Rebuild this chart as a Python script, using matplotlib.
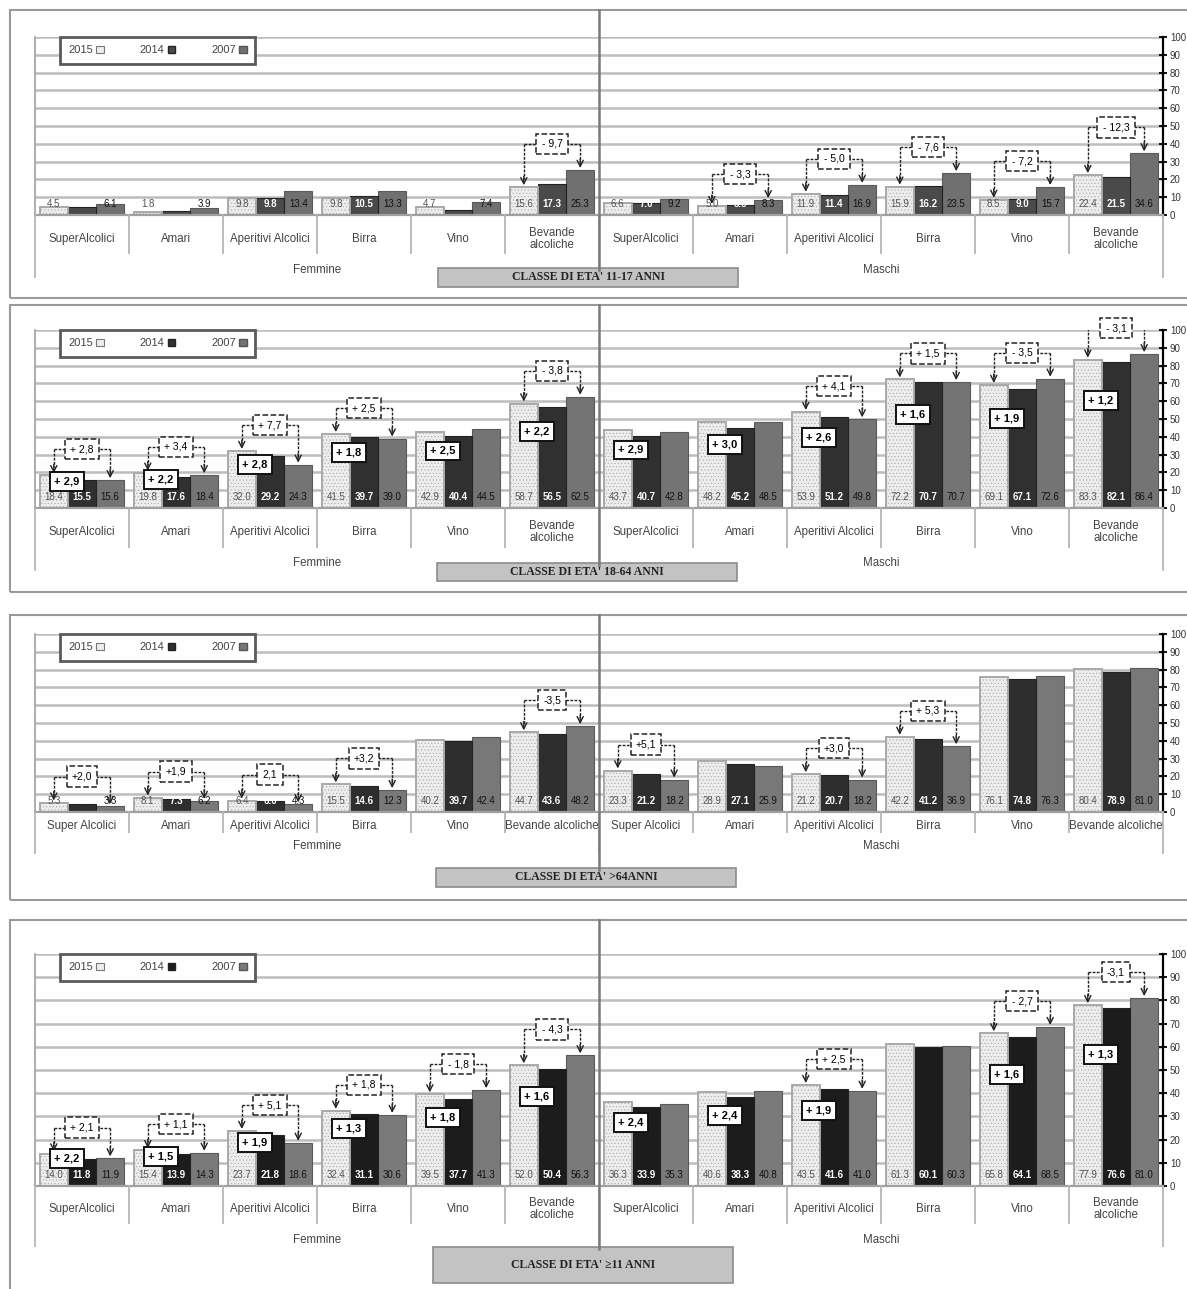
import matplotlib
matplotlib.use("Agg")
import matplotlib.pyplot as plt
from matplotlib.patches import Rectangle, Patch
from matplotlib.lines import Line2D
from matplotlib.transforms import blended_transform_factory

plt.rcParams['font.family'] = ['Liberation Sans', 'DejaVu Sans']
plt.rcParams['hatch.linewidth'] = 0.4

W, H = 1187, 1289

years = ["2007", "2014", "2015"]
groups = ["Maschi", "Femmine"]
cats_wrap = ["Bevande\nalcoliche", "Vino", "Birra", "Aperitivi Alcolici", "Amari", "SuperAlcolici"]
cats_flat = ["Bevande alcoliche", "Vino", "Birra", "Aperitivi Alcolici", "Amari", "Super Alcolici"]

titles = ["CLASSE DI ETA' 11-17 ANNI", "CLASSE DI ETA' 18-64 ANNI",
          "CLASSE DI ETA' >64ANNI", "CLASSE DI ETA' \u226511 ANNI"]

# order: Maschi (6 categories) then Femmine (6 categories)
v2007_1117 = [34.6, 15.7, 23.5, 16.9, 8.3, 9.2, 25.3, 7.4, 13.3, 13.4, 3.9, 6.1]
v2014_1117 = [21.5, 9.0, 16.2, 11.4, 5.5, 7.0, 17.3, 2.9, 10.5, 9.8, 2.0, 4.5]
v2015_1117 = [22.4, 8.5, 15.9, 11.9, 5.0, 6.6, 15.6, 4.7, 9.8, 9.8, 1.8, 4.5]
diff07_1117 = ["- 12,3", "- 7,2", "- 7,6", "- 5,0", "- 3,3", None, "- 9,7", None, None, None, None, None]
diff14_1117 = [None] * 12

v2007_1864 = [86.4, 72.6, 70.7, 49.8, 48.5, 42.8, 62.5, 44.5, 39.0, 24.3, 18.4, 15.6]
v2014_1864 = [82.1, 67.1, 70.7, 51.2, 45.2, 40.7, 56.5, 40.4, 39.7, 29.2, 17.6, 15.5]
v2015_1864 = [83.3, 69.1, 72.2, 53.9, 48.2, 43.7, 58.7, 42.9, 41.5, 32.0, 19.8, 18.4]
diff07_1864 = ["- 3,1", "- 3,5", "+ 1,5", "+ 4,1", None, None, "- 3,8", None, "+ 2,5", "+ 7,7", "+ 3,4", "+ 2,8"]
diff14_1864 = ["+ 1,2", "+ 1,9", "+ 1,6", "+ 2,6", "+ 3,0", "+ 2,9", "+ 2,2", "+ 2,5", "+ 1,8", "+ 2,8", "+ 2,2", "+ 2,9"]

v2007_64 = [81.0, 76.3, 36.9, 18.2, 25.9, 18.2, 48.2, 42.4, 12.3, 4.3, 6.2, 3.3]
v2014_64 = [78.9, 74.8, 41.2, 20.7, 27.1, 21.2, 43.6, 39.7, 14.6, 6.0, 7.3, 4.3]
v2015_64 = [80.4, 76.1, 42.2, 21.2, 28.9, 23.3, 44.7, 40.2, 15.5, 6.4, 8.1, 5.3]
diff07_64 = [None, None, "+ 5,3", "+3,0", None, "+5,1", "-3,5", None, "+3,2", "2,1", "+1,9", "+2,0"]
diff14_64 = [None] * 12

v2007_tot = [81.0, 68.5, 60.3, 41.0, 40.8, 35.3, 56.3, 41.3, 30.6, 18.6, 14.3, 11.9]
v2014_tot = [76.6, 64.1, 60.1, 41.6, 38.3, 33.9, 50.4, 37.7, 31.1, 21.8, 13.9, 11.8]
v2015_tot = [77.9, 65.8, 61.3, 43.5, 40.6, 36.3, 52.0, 39.5, 32.4, 23.7, 15.4, 14.0]
diff07_tot = ["-3,1", "- 2,7", None, "+ 2,5", None, None, "- 4,3", "- 1,8", "+ 1,8", "+ 5,1", "+ 1,1", "+ 2,1"]
diff14_tot = ["+ 1,3", "+ 1,6", None, "+ 1,9", "+ 2,4", "+ 2,4", "+ 1,6", "+ 1,8", "+ 1,3", "+ 1,9", "+ 1,5", "+ 2,2"]

panel_data = [
    (v2007_1117, v2014_1117, v2015_1117, diff07_1117, diff14_1117, cats_wrap),
    (v2007_1864, v2014_1864, v2015_1864, diff07_1864, diff14_1864, cats_wrap),
    (v2007_64, v2014_64, v2015_64, diff07_64, diff14_64, cats_flat),
    (v2007_tot, v2014_tot, v2015_tot, diff07_tot, diff14_tot, cats_wrap),
]

# pixel layout of every panel
layout = [
    dict(box=(10, 298), y100=37, y0=215, cat_y=239, grp_y=270, sep_in=253, sep_out=277,
         title=(438, 268, 738, 287), dark='#4a4a4a', grey='#707070'),
    dict(box=(305, 592), y100=330, y0=508, cat_y=532, grp_y=563, sep_in=547, sep_out=570,
         title=(437, 563, 737, 581), dark='#303030', grey='#747474'),
    dict(box=(615, 900), y100=634, y0=812, cat_y=826, grp_y=846, sep_in=832, sep_out=853,
         title=(436, 868, 736, 887), dark='#2e2e2e', grey='#787878'),
    dict(box=(920, 1300), y100=954, y0=1186, cat_y=1209, grp_y=1240, sep_in=1223, sep_out=1246,
         title=(433, 1247, 733, 1283), dark='#1c1c1c', grey='#7a7a7a'),
]

X0, X1 = 35, 1163
light = '#ededed'

fig = plt.figure(figsize=(W / 100, H / 100), dpi=100)


def fy(y):
    return 1 - y / H


for (v07, v14, v15, d07, d14, cats), lay in zip(panel_data, layout):
    # outer frame of the panel
    fig.add_artist(Rectangle((10 / W, fy(lay['box'][1])), 1.0, (lay['box'][1] - lay['box'][0]) / H,
                             transform=fig.transFigure, fill=False, ec='#9a9a9a', lw=1.5))

    ax = fig.add_axes([X0 / W, fy(lay['y0']), (X1 - X0) / W, (lay['y0'] - lay['y100']) / H])
    ppu = (lay['y0'] - lay['y100']) / 100.0   # pixels per unit

    n = len(v07)
    pos = list(range(n))
    bw = 0.3
    ax.bar([p - bw for p in pos], v07, width=bw, color=lay['grey'], edgecolor='#5a5a5a', lw=0.8, zorder=2)
    ax.bar(pos, v14, width=bw, color=lay['dark'], edgecolor='#222222', lw=0.8, zorder=2)
    ax.bar([p + bw for p in pos], v15, width=bw, color=light, edgecolor='#a9a9a9', lw=1.4,
           hatch='.....', zorder=2)

    # value labels at the base of the bars
    for p, a, b, c in zip(pos, v07, v14, v15):
        ax.annotate(f"{a:.1f}", (p - bw, 0), xytext=(0, 8), textcoords='offset points',
                    ha='center', va='center', fontsize=7, color='#111111', zorder=4)
        ax.annotate(f"{b:.1f}", (p, 0), xytext=(0, 8), textcoords='offset points',
                    ha='center', va='center', fontsize=7, color='white', fontweight='bold', zorder=4)
        ax.annotate(f"{c:.1f}", (p + bw, 0), xytext=(0, 8), textcoords='offset points',
                    ha='center', va='center', fontsize=7, color='#555555', zorder=4)

    # dashed callouts: 2015 vs 2007
    for p, a, c, lab in zip(pos, v07, v15, d07):
        if lab is None:
            continue
        yb = max(a, c) + 26 / ppu
        xl, xr = p + bw, p - bw
        ax.plot([xl, xr], [yb, yb], ls=(0, (2, 1)), color='#222222', lw=1, zorder=5)
        for xx, top in ((xl, c), (xr, a)):
            tip = top + 2 / ppu
            ax.plot([xx, xx], [yb, tip + 6 / ppu], ls=(0, (2, 1)), color='#222222', lw=1, zorder=5)
            ax.annotate('', xy=(xx, tip), xytext=(xx, tip + 9 / ppu),
                        arrowprops=dict(arrowstyle='->', color='#222222', lw=1,
                                        shrinkA=0, shrinkB=0, mutation_scale=11), zorder=5)
        ax.text(p, yb, lab, ha='center', va='center', fontsize=7.5, zorder=6,
                bbox=dict(boxstyle='square,pad=0.5', fc='white', ec='#222222', ls='--', lw=1.1))

    # solid boxes: 2015 vs 2014
    for p, c, lab in zip(pos, v15, d14):
        if lab is None:
            continue
        ax.text(p + 0.16, 0.7 * c + 2, lab, ha='center', va='center', fontsize=8,
                fontweight='bold', zorder=6,
                bbox=dict(boxstyle='square,pad=0.4', fc='white', ec='#111111', lw=1.4))

    ax.set_xlim(n - 0.5, -0.5)
    ax.set_ylim(0, 100)
    ax.set_yticks(range(0, 101, 10))
    ax.set_xticks([])
    ax.yaxis.tick_right()
    ax.tick_params(axis='y', direction='inout', length=6, width=1.3, labelsize=7,
                   labelcolor='#333333', pad=2)
    ax.yaxis.grid(True, color='#bdbdbd', lw=1.8, zorder=0)
    ax.set_axisbelow(True)
    ax.patch.set_alpha(0)
    ax.spines['top'].set_visible(False)
    ax.spines['right'].set_color('black')
    ax.spines['right'].set_linewidth(1.6)
    ax.spines['left'].set_color('#a0a0a0')
    ax.spines['left'].set_linewidth(1.2)
    ax.spines['bottom'].set_color('#a0a0a0')
    ax.spines['bottom'].set_linewidth(1.6)

    # legend
    handles = [Patch(fc=light, ec='#777777', lw=0.8, label=years[2]),
               Patch(fc=lay['dark'], ec='#222222', label=years[1]),
               Patch(fc=lay['grey'], ec='#555555', label=years[0])]
    leg = ax.legend(handles=handles, ncol=3, markerfirst=False, loc='upper left',
                    bbox_to_anchor=(0.022, 1.0), borderaxespad=0, fontsize=8,
                    handlelength=0.7, handleheight=0.7, handletextpad=0.3,
                    columnspacing=3.2, borderpad=0.75, fancybox=False, framealpha=1)
    leg.get_frame().set_edgecolor('#5a5a5a')
    leg.get_frame().set_linewidth(2)
    for t in leg.get_texts():
        t.set_color('#444444')

    # category axis below the plot
    tr = blended_transform_factory(ax.transData, fig.transFigure)
    for k in range(n + 1):
        x = k - 0.5
        outer = k in (0, n // 2, n)
        ybot = lay['sep_out'] if outer else lay['sep_in']
        fig.add_artist(Line2D([x, x], [fy(lay['y0']), fy(ybot)], transform=tr,
                              color='#b5b5b5', lw=1.3))
    for p in pos:
        fig.text(p, fy(lay['cat_y']), cats[p % 6], transform=tr, ha='center', va='center',
                 fontsize=8.3, color='#444444', linespacing=1.05)
    for g, gname in enumerate(groups):
        fig.text(g * 6 + 2.5, fy(lay['grp_y']), gname, transform=tr, ha='center', va='center',
                 fontsize=8.3, color='#444444')

    # central divider
    fig.add_artist(Line2D([5.5, 5.5], [fy(lay['box'][0]), fy(lay['title'][1] + 2)], transform=tr,
                          color='#7a7a7a', lw=1.8))

    # title box
    tx0, ty0, tx1, ty1 = lay['title']
    fig.add_artist(Rectangle((tx0 / W, fy(ty1)), (tx1 - tx0) / W, (ty1 - ty0) / H,
                             transform=fig.transFigure, fc='#c3c3c3', ec='#8c8c8c', lw=1.2))

for (tx0, ty0, tx1, ty1), ttl in zip([l['title'] for l in layout], titles):
    fig.text((tx0 + tx1) / 2 / W, fy((ty0 + ty1) / 2), ttl, ha='center', va='center',
             fontsize=8.5, fontweight='bold', family=['Liberation Serif', 'DejaVu Serif'],
             color='#222222')

fig.savefig("out.png", dpi=100)
